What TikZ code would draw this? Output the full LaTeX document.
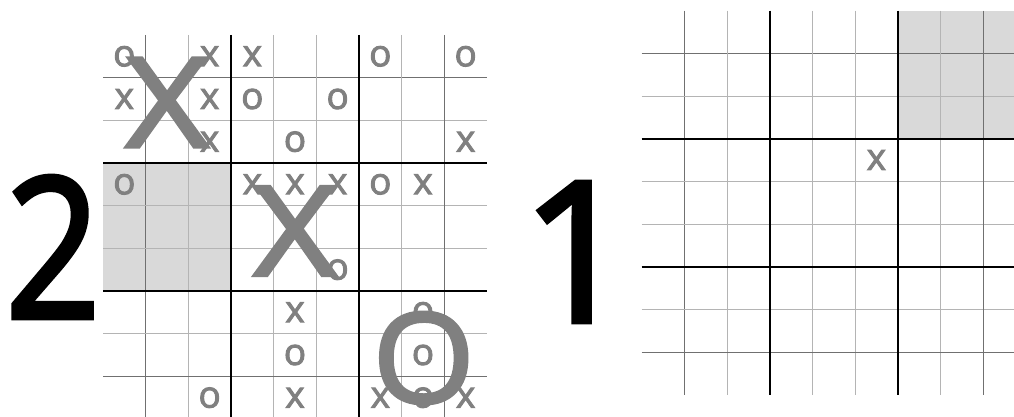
\documentclass[tikz,border=0pt]{standalone}
\usepackage{fontspec}
\setmainfont{Open Sans}
\newfontface\markfont{Open Sans}[FakeBold=2.5]
\definecolor{markgray}{HTML}{808080}
\definecolor{shadegray}{HTML}{D9D9D9}
\definecolor{thinD}{HTML}{707070}
\definecolor{thinL}{HTML}{B4B4B4}
\begin{document}
\begin{tikzpicture}[x=1pt,y=-1pt,
  thinline/.style={line width=1pt},
  thickline/.style={line width=2.4pt,black},
  smallmark/.style={text=markgray,inner sep=0pt,font=\markfont\fontsize{37}{37}\selectfont},
  bigmark/.style={text=markgray,inner sep=0pt,font=\markfont\fontsize{125}{125}\selectfont},
  digit/.style={text=black,inner sep=0pt,font=\markfont\fontsize{196}{196}\selectfont}]
\useasboundingbox (0,0) rectangle (1014,417);
\def\cs{42.667}
% ---------- left board ----------
\fill[shadegray] (103,{35+3*\cs}) rectangle ({103+3*\cs},{35+6*\cs});
\foreach \i/\c in {1/thinD,2/thinL,4/thinL,5/thinL,7/thinL,8/thinD}{
  \draw[thinline,\c] ({103+\i*\cs},35) -- ({103+\i*\cs},{35+9*\cs});
  \draw[thinline,\c] (103,{35+\i*\cs}) -- ({103+9*\cs},{35+\i*\cs});
}
\foreach \i in {3,6}{
  \draw[thickline] ({103+\i*\cs},35) -- ({103+\i*\cs},{35+9*\cs});
  \draw[thickline] (103,{35+\i*\cs}) -- ({103+9*\cs},{35+\i*\cs});
}
\foreach \r/\c/\t in {0/0/o,0/2/x,0/3/x,0/6/o,0/8/o,
  1/0/x,1/2/x,1/3/o,1/5/o,
  2/2/x,2/4/o,2/8/x,
  3/0/o,3/3/x,3/4/x,3/5/x,3/6/o,3/7/x,
  5/5/o,
  6/4/x,6/7/o,
  7/4/o,7/7/o,
  8/2/o,8/4/x,8/6/x,8/7/o,8/8/x}{
  \node[smallmark] (L-\r-\c) at ({103+(\c+0.5)*\cs},{35+(\r+0.5)*\cs}) {\t};
}
\node[bigmark] (LbigA) at (167,102.5) {\scalebox{1.15}[1]{X}};
\node[bigmark] (LbigB) at (295,231) {\scalebox{1.15}[1]{X}};
\node[bigmark] (LbigC) at (423.7,358) {\scalebox{1.05}[1]{O}};
% ---------- right board ----------
\def\rx{641.7}
\def\ry{10.7}
\fill[shadegray] ({\rx+6*\cs},\ry) rectangle ({\rx+9*\cs},{\ry+3*\cs});
\foreach \i/\c in {1/thinD,2/thinL,4/thinL,5/thinL,7/thinL,8/thinD}{
  \draw[thinline,\c] ({\rx+\i*\cs},\ry) -- ({\rx+\i*\cs},{\ry+9*\cs});
  \draw[thinline,\c] (\rx,{\ry+\i*\cs}) -- ({\rx+9*\cs},{\ry+\i*\cs});
}
\foreach \i in {3,6}{
  \draw[thickline] ({\rx+\i*\cs},\ry) -- ({\rx+\i*\cs},{\ry+9*\cs});
  \draw[thickline] (\rx,{\ry+\i*\cs}) -- ({\rx+9*\cs},{\ry+\i*\cs});
}
\node[smallmark] (R-3-5) at ({\rx+5.5*\cs},{\ry+3.5*\cs}) {x};
% ---------- scores ----------
\node[digit] (two) at (53,247) {\scalebox{0.85}[1]{2}};
\node[digit] (one) at (577,252) {1};
\end{tikzpicture}
\end{document}
